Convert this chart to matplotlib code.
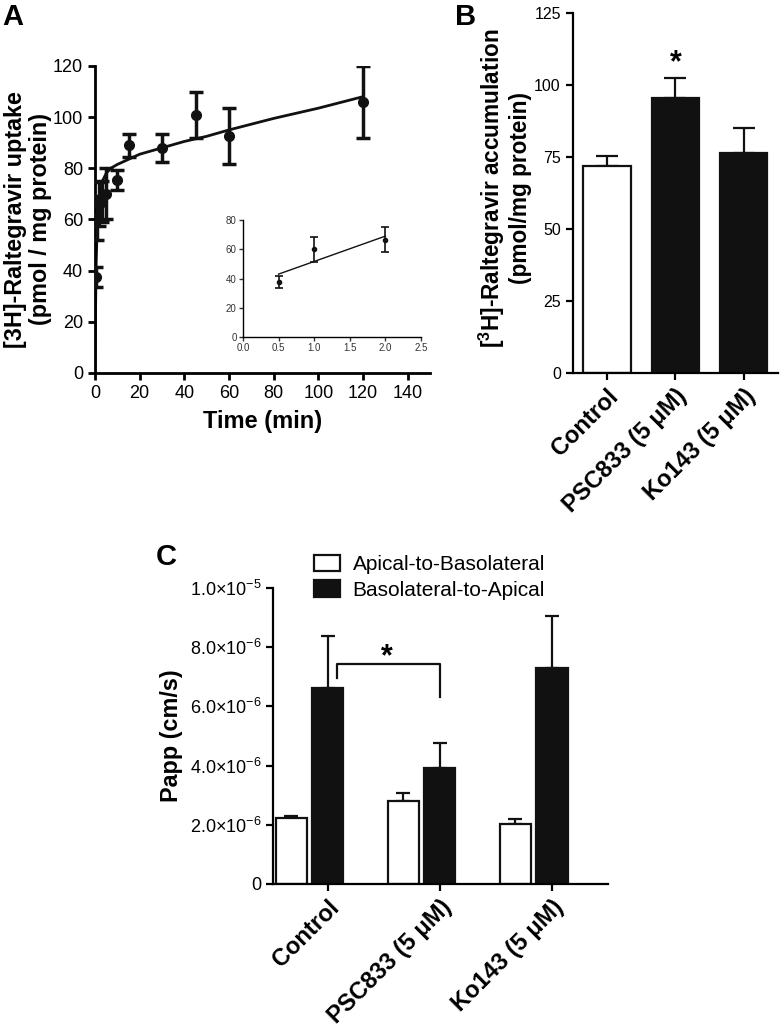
import matplotlib
matplotlib.use("Agg")
import matplotlib.pyplot as plt
import numpy as np

plt.rcParams['font.family'] = ['Liberation Sans', 'DejaVu Sans']
plt.rcParams['mathtext.fontset'] = 'custom'
plt.rcParams['mathtext.rm'] = 'Liberation Sans'
plt.rcParams['mathtext.bf'] = 'Liberation Sans:bold'
plt.rcParams['mathtext.default'] = 'regular'

# ---------------- Data ----------------
# Panel A: uptake time course
time_min = [0.5, 1, 2, 3, 5, 10, 15, 30, 45, 60, 120]
uptake = [37.5, 60.5, 66, 67, 70, 75.5, 89, 88, 101, 92.5, 106]
uptake_err = [4, 8.5, 8.5, 8, 10, 4, 4.5, 5.5, 9, 11, 14]
fit_t = [0, 0.25, 0.5, 1, 2, 3, 5, 7, 10, 15, 20, 30, 40, 50, 60, 80, 100, 120]
fit_y = [0, 25, 42, 58, 70, 74.5, 78, 80, 81.5, 83.5, 85.5, 88, 90.5, 92.5, 95, 99.5, 103.5, 108]

# Inset
inset_t = [0.5, 1, 2]
inset_y = [37.5, 60, 66.5]
inset_err = [4, 8.5, 8.5]
inset_fit_t = [0.5, 2]
inset_fit_y = [43, 69]

# Panel B
b_labels = ["Control", "PSC833 (5 μM)", "Ko143 (5 μM)"]
b_values = [72, 95.5, 76.5]
b_err = [3.5, 7, 8.5]

# Panel C
c_labels = ["Control", "PSC833 (5 μM)", "Ko143 (5 μM)"]
c_ab = [2.22e-6, 2.80e-6, 2.03e-6]
c_ab_err = [0.07e-6, 0.26e-6, 0.15e-6]
c_ba = [6.61e-6, 3.91e-6, 7.30e-6]
c_ba_err = [1.77e-6, 0.86e-6, 1.76e-6]
c_yticks = [0, 2e-6, 4e-6, 6e-6, 8e-6, 1e-5]
c_yticklabels = ["0", r"2.0×10$^{-6}$", r"4.0×10$^{-6}$", r"6.0×10$^{-6}$", r"8.0×10$^{-6}$", r"1.0×10$^{-5}$"]

fig = plt.figure(figsize=(7.8, 10.34), dpi=100)

def style(ax, lw=1.6):
    for s in ['top', 'right']:
        ax.spines[s].set_visible(False)
    for s in ['left', 'bottom']:
        ax.spines[s].set_linewidth(lw)
    ax.tick_params(direction='out', width=lw, length=5)

# ---------------- Panel A ----------------
axA = fig.add_axes([0.1218, 0.6393, 0.4295, 0.2969])
style(axA, 2.0)
axA.plot(fit_t, fit_y, color='#111111', lw=2.0, zorder=2)
axA.errorbar(time_min, uptake, yerr=uptake_err, fmt='o', color='#111111', ms=7,
             elinewidth=2.5, capsize=5, capthick=2.5, zorder=3)
axA.set_xlim(0, 150)
axA.set_ylim(0, 120)
axA.set_xticks(np.arange(0, 141, 20))
axA.set_yticks(np.arange(0, 121, 20))
axA.tick_params(labelsize=13)
axA.set_xlabel("Time (min)", fontsize=17, fontweight='bold', labelpad=6)
axA.set_ylabel("[3H]-Raltegravir uptake\n(pmol / mg protein)", fontsize=16.8,
               fontweight='bold', linespacing=1.1)
axA.yaxis.set_label_coords(-0.128, 0.5)
fig.text(0.003, 0.997, "A", fontsize=21, fontweight='bold', va='top', ha='left')

# Inset
axI = fig.add_axes([0.3115, 0.6741, 0.2282, 0.1131])
style(axI, 1.0)
axI.plot(inset_fit_t, inset_fit_y, color='#111111', lw=1.0)
axI.errorbar(inset_t, inset_y, yerr=inset_err, fmt='o', color='#111111', ms=3,
             elinewidth=1.2, capsize=3, capthick=1.2)
axI.set_xlim(0, 2.5)
axI.set_ylim(0, 80)
axI.set_xticks(np.arange(0, 2.51, 0.5))
axI.set_yticks(np.arange(0, 81, 20))
axI.set_xticklabels([f"{v:.1f}" for v in np.arange(0, 2.51, 0.5)])
axI.tick_params(labelsize=7, length=3, width=1.0, pad=1.5, colors='#333333')

# ---------------- Panel B ----------------
axB = fig.add_axes([0.7342, 0.6393, 0.2632, 0.3481])
style(axB, 1.6)
xb = np.arange(len(b_values))
colors_b = ['white', '#111111', '#111111']
axB.bar(xb, b_values, width=0.69, color=colors_b, edgecolor='#111111', linewidth=1.6, zorder=2)
axB.errorbar(xb, b_values, yerr=[np.zeros(3), b_err], fmt='none', ecolor='#111111',
             elinewidth=1.6, capsize=8, capthick=1.6, zorder=1)
axB.set_xlim(-0.5, 2.5)
axB.set_ylim(0, 125)
axB.set_yticks(np.arange(0, 126, 25))
axB.set_xticks(xb)
axB.set_xticklabels(b_labels, rotation=45, ha='right', rotation_mode='anchor',
                    fontsize=17, fontweight='bold')
axB.tick_params(axis='y', labelsize=11.5)
axB.set_ylabel(r"[$^{\mathbf{3}}$H]-Raltegravir accumulation" + "\n(pmol/mg protein)",
               fontsize=16.3, fontweight='bold', linespacing=1.1)
axB.yaxis.set_label_coords(-0.198, 0.514)
axB.text(1, 107.5, "*", ha='center', va='center', fontsize=22, fontweight='bold')
fig.text(0.583, 0.997, "B", fontsize=21, fontweight='bold', va='top', ha='left')

# ---------------- Panel C ----------------
axC = fig.add_axes([0.35, 0.1451, 0.4295, 0.2862])
style(axC, 1.6)
xc = np.arange(len(c_ab))
bw = 0.277
off = 0.326
axC.bar(xc - off, c_ab, width=bw, color='white', edgecolor='#111111', linewidth=1.6,
        zorder=2, label="Apical-to-Basolateral")
axC.bar(xc, c_ba, width=bw, color='#111111', edgecolor='#111111', linewidth=1.6,
        zorder=2, label="Basolateral-to-Apical")
axC.errorbar(xc - off, c_ab, yerr=[np.zeros(3), c_ab_err], fmt='none', ecolor='#111111',
             elinewidth=1.6, capsize=5, capthick=1.6, zorder=1)
axC.errorbar(xc, c_ba, yerr=[np.zeros(3), c_ba_err], fmt='none', ecolor='#111111',
             elinewidth=1.6, capsize=5, capthick=1.6, zorder=1)
axC.set_xlim(-0.49, 2.5)
axC.set_ylim(0, 1e-5)
axC.set_yticks(c_yticks)
axC.set_yticklabels(c_yticklabels)
axC.tick_params(axis='y', labelsize=13)
axC.set_xticks(xc)
axC.set_xticklabels(c_labels, rotation=45, ha='right', rotation_mode='anchor',
                    fontsize=17, fontweight='bold')
axC.set_ylabel("Papp (cm/s)", fontsize=16.8, fontweight='bold')
axC.yaxis.set_label_coords(-0.269, 0.5)
# significance bracket
axC.plot([0.077, 0.077, 1.0, 1.0], [6.95e-6, 7.43e-6, 7.43e-6, 6.33e-6],
         color='#111111', lw=1.6)
axC.text(0.53, 7.65e-6, "*", ha='center', va='center', fontsize=22, fontweight='bold')
leg = axC.legend(loc='upper left', bbox_to_anchor=(0.4026, 0.4637),
                 bbox_transform=fig.transFigure, frameon=False,
                 fontsize=15, handlelength=1.25, handleheight=0.85, handletextpad=0.6,
                 labelspacing=0.3, borderaxespad=0, borderpad=0)
fig.text(0.2, 0.475, "C", fontsize=21, fontweight='bold', va='top', ha='left')

fig.savefig("out.png", dpi=100)
